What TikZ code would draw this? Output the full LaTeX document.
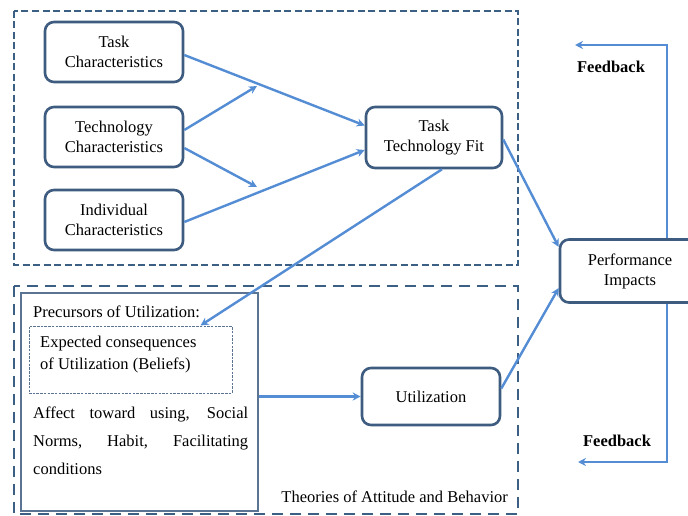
\documentclass[tikz,border=0pt]{standalone}
\usepackage{fontspec}
\setmainfont{Liberation Serif}
\newfontfamily\tnr{Liberation Serif}
\usetikzlibrary{arrows.meta,calc}
\definecolor{boxc}{RGB}{62,92,128}
\definecolor{arrc}{RGB}{84,141,212}
\definecolor{dashc}{RGB}{60,95,132}
\begin{document}
\begin{tikzpicture}[x=1pt,y=-1pt,
  every node/.style={font=\tnr\fontsize{16.5}{20}\selectfont},
  rbox/.style={draw=boxc,line width=2.6pt,rounded corners=9pt,align=center,inner sep=0pt},
  conn/.style={draw=arrc,line width=2.4pt},
  tip/.style={conn,-{Stealth[length=8pt,width=8pt]}},
  group/.style={draw=dashc,line width=2.4pt,dash pattern=on 7pt off 3.5pt},
  groupb/.style={draw=dashc,line width=2.4pt,dash pattern=on 11pt off 7pt},
  fb/.style={font=\tnr\fontsize{16.5}{20}\selectfont\bfseries}]
\useasboundingbox (0,0) rectangle (688,516);
\fill[white] (0,0) rectangle (688,516);
% group frames
\draw[group] (14,11) rectangle (518,265);
\draw[groupb] (14,286) rectangle (518,514);
% boxes
\node[rbox,minimum width=138pt,minimum height=60pt] (tc) at (114,52) {Task\\Characteristics};
\node[rbox,minimum width=138pt,minimum height=60pt] (tec) at (114,137) {Technology\\Characteristics};
\node[rbox,minimum width=138pt,minimum height=60pt] (ic) at (114,220) {Individual\\Characteristics};
\node[rbox,minimum width=136pt,minimum height=61pt] (ttf) at (434,137.5) {Task\\Technology Fit};
\node[rbox,minimum width=140pt,minimum height=63pt] (pi) at (630,271) {Performance\\Impacts};
\node[rbox,minimum width=138pt,minimum height=57pt] (ut) at (431,396.5) {Utilization};
\node[draw=boxc!85,line width=1.4pt,minimum width=237pt,minimum height=218pt,inner sep=0pt] (prec) at (139.5,402) {};
\node[draw=boxc!85,line width=1pt,dash pattern=on 2.5pt off 1.2pt,minimum width=203pt,minimum height=67pt,inner sep=0pt] (bel) at (130.5,359.5) {};
% texts in precursors
\node[anchor=west,inner sep=0pt] (ptitle) at (33,312) {Precursors of Utilization:};
\node[anchor=north west,inner sep=0pt,align=left,font=\tnr\fontsize{16.5}{22}\selectfont] (beltxt) at (40,336) {Expected consequences\\of Utilization (Beliefs)};
\node[anchor=north west,inner sep=0pt,align=left,font=\tnr\fontsize{16.5}{28}\selectfont] (aff) at (33,407) {\makebox[215pt][s]{Affect toward using, Social}\\\makebox[215pt][s]{Norms, Habit, Facilitating}\\conditions};
\node[anchor=east,inner sep=0pt] (theo) at (508,497) {Theories of Attitude and Behavior};
% junction points
\coordinate (j1) at (257,86);
\coordinate (j2) at (257,187);
\coordinate (fb1) at (575,45);
\coordinate (fb2) at (578,462);
% connectors
\draw[tip] ($(tc.east)+(0,3)$) -- ($(ttf.west)+(0,-12)$);
\draw[tip] ($(tec.east)+(0,-7)$) -- (j1);
\draw[tip] ($(tec.east)+(0,11)$) -- (j2);
\draw[tip] ($(ic.east)+(0,2)$) -- ($(ttf.west)+(0,12.5)$);
\draw[tip] ($(ttf.south)+(8,0)$) -- ($(bel.north)+(70,0)$);
\draw[tip] ($(ttf.east)+(0,2)$) -- ($(pi.west)+(0,-24)$);
\draw[tip] (prec.east |- ut.west) -- (ut.west);
\draw[tip] ($(ut.east)+(0,-8)$) -- ($(pi.west)+(0,17)$);
\draw[tip] ($(pi.north)+(37,0)$) |- (fb1);
\draw[tip] ($(pi.south)+(37,0)$) |- (fb2);
\node[fb] (fbt) at (611,67) {Feedback};
\node[fb] (fbb) at (617,441) {Feedback};
\end{tikzpicture}
\end{document}
